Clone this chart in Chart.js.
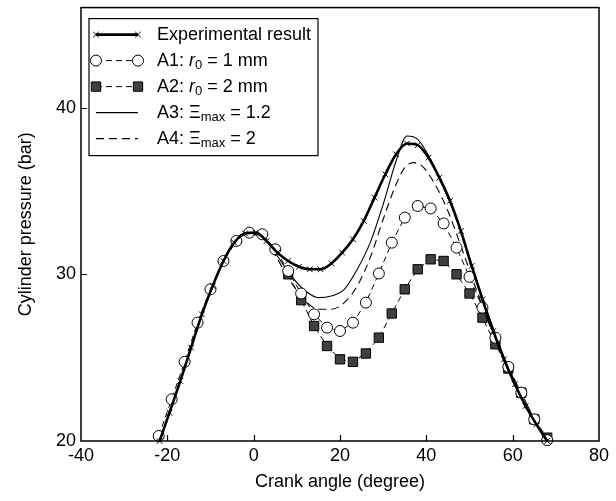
<!DOCTYPE html>
<html>
<head>
<meta charset="utf-8">
<title>Cylinder pressure</title>
<script src="https://cdn.jsdelivr.net/npm/chart.js@4.4.1/dist/chart.umd.min.js"></script>
<style>
  html, body { margin: 0; padding: 0; background: #fff; }
  #wrap { width: 616px; height: 501px; }
</style>
</head>
<body>
<div id="wrap"><canvas id="pressure-chart" width="616" height="501"></canvas></div>
<script>
// values
const expAngle = [-21.8, -19.5, -17, -14.5, -12, -9.5, -7, -4.5, -2, 0.5, 3, 5.5, 8, 10.5, 13, 15.5, 18, 20.5, 23, 25.5,
  28, 30.5, 33, 35.5, 38, 40.5, 43, 45.5, 48, 50.5, 53, 55.5, 58, 60.5, 63, 65.5, 68];
const expPressure = [20.0, 21.7, 23.6, 25.6, 27.6, 29.3, 30.8, 31.9, 32.45, 32.5, 32.0, 31.3, 30.8, 30.45, 30.3, 30.3, 30.65, 31.3, 32.1, 33.2,
  34.6, 36.0, 37.2, 37.85, 37.75, 37.0, 35.8, 34.4, 32.6, 30.5, 28.5, 26.6, 24.9, 23.4, 22.1, 21.0, 20.0];

const a1Angle = [-22, -19, -16, -13, -10, -7, -4, -1, 2, 5, 8, 11, 14, 17, 20, 23, 26, 29, 32, 35, 38, 41, 44, 47, 50, 53, 56, 59, 62, 65, 68];
const a1Pressure = [20.3, 22.5, 24.75, 27.1, 29.1, 30.8, 32.0, 32.5, 32.4, 31.5, 30.2, 28.85, 27.6, 26.8, 26.6, 27.1, 28.3, 30.05, 31.9, 33.4,
  34.1, 33.95, 33.05, 31.6, 29.85, 28.0, 26.2, 24.45, 22.9, 21.3, 20.05];

const a2Angle = [8, 11, 14, 17, 20, 23, 26, 29, 32, 35, 38, 41, 44, 47, 50, 53, 56, 59, 62, 65, 68];
const a2Pressure = [30.0, 28.45, 26.9, 25.7, 24.9, 24.75, 25.25, 26.2, 27.65, 29.1, 30.3, 30.9, 30.8, 30.0, 28.85, 27.4, 25.8, 24.35, 22.9, 21.3, 20.2];

const a3Angle = [-21.8, -17, -12, -7, -2, 3, 6, 9, 12, 15, 18, 21, 24, 27, 30, 33, 35.5, 38, 41, 44, 47, 50, 53, 56, 59, 62, 65, 68];
const a3Pressure = [20.0, 23.6, 27.6, 30.8, 32.45, 32.0, 30.9, 29.8, 29.0, 28.6, 28.7, 29.1, 30.3, 31.9, 34.2, 36.8, 38.3, 38.1, 36.9, 35.2,
  33.3, 31.0, 28.6, 26.4, 24.4, 22.7, 21.2, 20.0];

const a4Angle = [-21.8, -17, -12, -7, -2, 3, 6, 9, 12, 15, 18, 21, 24, 27, 30, 33, 35, 37, 39, 42, 45, 48, 51, 54, 57, 60, 63, 66, 68];
const a4Pressure = [20.0, 23.6, 27.6, 30.8, 32.45, 32.0, 30.7, 29.4, 28.4, 27.9, 27.9, 28.3, 29.3, 31.0, 33.3, 35.4, 36.4, 36.7, 36.5, 35.4,
  33.8, 31.7, 29.5, 27.4, 25.4, 23.6, 22.0, 20.8, 20.0];

const xTicks = [-40, -20, 0, 20, 40, 60, 80];
const yTicks = [20, 30, 40];

// legend text, with italic / subscript pieces
const legendText = [
  [{ t: 'Experimental result' }],
  [{ t: 'A1: ' }, { t: 'r', it: true }, { t: '0', sub: true }, { t: ' = 1 mm' }],
  [{ t: 'A2: ' }, { t: 'r', it: true }, { t: '0', sub: true }, { t: ' = 2 mm' }],
  [{ t: 'A3: \u039E' }, { t: 'max', sub: true }, { t: ' = 1.2' }],
  [{ t: 'A4: \u039E' }, { t: 'max', sub: true }, { t: ' = 2' }],
];

const fam = '"Liberation Sans", Arial, sans-serif';
const pts = (xs, ys) => xs.map((x, i) => ({ x: x, y: ys[i] }));

const drawRich = (ctx, parts, x, y) => {
  parts.forEach(p => {
    const size = p.sub ? 13 : 18;
    ctx.font = (p.it ? 'italic ' : '') + size + 'px ' + fam;
    ctx.fillText(p.t, x, y + (p.sub ? 5 : 0));
    x += ctx.measureText(p.t).width;
  });
};

const noPad = s => { s.paddingTop = 0; s.paddingBottom = 0; s.paddingLeft = 0; s.paddingRight = 0; };

const framePlugin = {
  id: 'frame',
  afterDraw(chart) {
    const ctx = chart.ctx;
    const a = chart.chartArea;
    const xs = chart.scales.x, ys = chart.scales.y;
    ctx.save();
    ctx.strokeStyle = '#000';
    ctx.lineWidth = 1.5;
    ctx.strokeRect(a.left, a.top, a.right - a.left, a.bottom - a.top);
    // inward tick marks
    ctx.lineWidth = 1.2;
    ctx.beginPath();
    xTicks.slice(1, -1).forEach(v => {
      const px = Math.round(xs.getPixelForValue(v)) + 0.5;
      ctx.moveTo(px, a.bottom);
      ctx.lineTo(px, a.bottom - 6);
    });
    yTicks.slice(1).forEach(v => {
      const py = Math.round(ys.getPixelForValue(v)) + 0.5;
      ctx.moveTo(a.left, py);
      ctx.lineTo(a.left + 6, py);
    });
    ctx.stroke();

    // legend box
    const bx = a.left + 8, by = a.top + 11, bw = 229, bh = 137;
    ctx.fillStyle = '#fff';
    ctx.fillRect(bx, by, bw, bh);
    ctx.lineWidth = 1.2;
    ctx.strokeRect(bx, by, bw, bh);
    ctx.textBaseline = 'middle';
    chart.data.datasets.forEach((ds, i) => {
      const y = by + 16 + i * 26;
      const x0 = bx + 7, x1 = bx + 49;
      ctx.save();
      ctx.strokeStyle = '#000';
      ctx.lineWidth = ds.borderWidth;
      ctx.setLineDash(ds.borderDash || []);
      ctx.beginPath();
      ctx.moveTo(x0, y);
      ctx.lineTo(x1, y);
      ctx.stroke();
      ctx.setLineDash([]);
      if (ds.pointRadius > 0) {
        ctx.fillStyle = ds.pointBackgroundColor;
        ctx.strokeStyle = '#000';
        ctx.lineWidth = ds.pointBorderWidth;
        const opt = { pointStyle: ds.pointStyle, radius: ds.pointRadius, rotation: 0, borderWidth: ds.pointBorderWidth };
        Chart.helpers.drawPoint(ctx, opt, x0, y);
        Chart.helpers.drawPoint(ctx, opt, x1, y);
      }
      ctx.restore();
      ctx.fillStyle = '#000';
      drawRich(ctx, legendText[i], bx + 68, y);
    });
    ctx.restore();
  }
};

const ctx = document.getElementById('pressure-chart').getContext('2d');
const myChart = new Chart(ctx, {
  type: 'line',
  data: {
    datasets: [
      {
        label: 'Experimental result',
        data: pts(expAngle, expPressure),
        borderColor: '#000',
        borderWidth: 2.6,
        cubicInterpolationMode: 'monotone',
        pointStyle: 'crossRot',
        pointRadius: 4,
        pointBorderWidth: 1,
        pointBorderColor: '#000',
        pointBackgroundColor: '#000',
        clip: false,
      },
      {
        label: 'A1: r0 = 1 mm',
        data: pts(a1Angle, a1Pressure),
        borderColor: '#000',
        borderWidth: 1,
        borderDash: [6, 4],
        pointStyle: 'circle',
        pointRadius: 5.5,
        pointBorderWidth: 1,
        pointBorderColor: '#000',
        pointBackgroundColor: '#fff',
        clip: false,
      },
      {
        label: 'A2: r0 = 2 mm',
        data: pts(a2Angle, a2Pressure),
        borderColor: '#000',
        borderWidth: 1,
        borderDash: [6, 4],
        pointStyle: 'rect',
        pointRadius: 6.6,
        pointBorderWidth: 1,
        pointBorderColor: '#000',
        pointBackgroundColor: '#404040',
        clip: false,
      },
      {
        label: 'A3: \u039Emax = 1.2',
        data: pts(a3Angle, a3Pressure),
        borderColor: '#000',
        borderWidth: 1.1,
        cubicInterpolationMode: 'monotone',
        pointRadius: 0,
        clip: false,
      },
      {
        label: 'A4: \u039Emax = 2',
        data: pts(a4Angle, a4Pressure),
        borderColor: '#000',
        borderWidth: 1.1,
        borderDash: [8, 5],
        cubicInterpolationMode: 'monotone',
        pointRadius: 0,
        clip: false,
      },
    ]
  },
  options: {
    responsive: false,
    animation: false,
    layout: { padding: { top: 6, right: 17, left: 0, bottom: 0 } },
    plugins: {
      legend: { display: false },
      tooltip: { enabled: false },
    },
    scales: {
      x: {
        type: 'linear',
        min: -40,
        max: 80,
        afterBuildTicks: s => { s.ticks = xTicks.map(v => ({ value: v })); },
        afterFit: s => { s.height = 60; noPad(s); },
        grid: { display: false, drawTicks: false },
        border: { display: false },
        ticks: { color: '#000', font: { family: fam, size: 18 }, padding: 4, maxRotation: 0 },
        title: { display: true, text: 'Crank angle (degree)', color: '#000', font: { family: fam, size: 18 }, padding: { top: 0, bottom: 8 } },
      },
      y: {
        min: 20,
        max: 46,
        afterBuildTicks: s => { s.ticks = yTicks.map(v => ({ value: v })); },
        afterFit: s => { s.width = 81; noPad(s); },
        grid: { display: false, drawTicks: false },
        border: { display: false },
        ticks: { color: '#000', font: { family: fam, size: 18 }, padding: 5 },
        title: { display: true, text: 'Cylinder pressure (bar)', color: '#000', font: { family: fam, size: 18 }, padding: { top: 15, bottom: 0 } },
      }
    }
  },
  plugins: [framePlugin]
});
</script>
</body>
</html>
